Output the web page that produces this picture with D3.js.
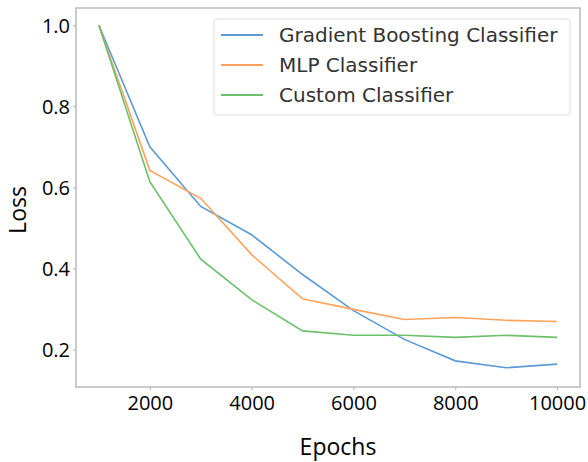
<!DOCTYPE html>
<html>
<head>
<meta charset="utf-8">
<script src="https://cdn.jsdelivr.net/npm/d3@7"></script>
<style>
  body { margin: 0; background: #fff; }
  svg { display: block; }
</style>
</head>
<body>
<div id="chart"></div>
<script>
var epochs = [1000, 2000, 3000, 4000, 5000, 6000, 7000, 8000, 9000, 10000];
var gradientBoosting = [1.0, 0.70, 0.553, 0.483, 0.385, 0.296, 0.225, 0.172, 0.155, 0.164];
var mlp = [1.0, 0.642, 0.573, 0.434, 0.325, 0.299, 0.274, 0.279, 0.272, 0.269];
var custom = [1.0, 0.614, 0.423, 0.323, 0.246, 0.235, 0.235, 0.230, 0.235, 0.230];
var xTicks = [2000, 4000, 6000, 8000, 10000];
var yTicks = [0.2, 0.4, 0.6, 0.8, 1.0];

var series = [
    {name: "Gradient Boosting Classifier", values: gradientBoosting, color: "#5b9bd5"},
    {name: "MLP Classifier", values: mlp, color: "#ffa35c"},
    {name: "Custom Classifier", values: custom, color: "#6cc06a"}
];

var W = 588, H = 462;
var margin = {top: 8, right: 8, bottom: 75, left: 76};
var width = W - margin.left - margin.right;
var height = H - margin.top - margin.bottom;

var svg = d3.select("#chart").append("svg")
    .attr("width", W)
    .attr("height", H);

var g = svg.append("g")
    .attr("transform", "translate(" + margin.left + "," + margin.top + ")");

var x = d3.scaleLinear().domain([550, 10450]).range([0, width]);
var y = d3.scaleLinear().domain([0.1075, 1.0425]).range([height, 0]);

var tickFont = "'Open Sans', sans-serif";

var xAxis = g.append("g")
    .attr("transform", "translate(0," + height + ")")
    .call(d3.axisBottom(x).tickValues(xTicks).tickSize(3).tickPadding(6).tickFormat(d3.format("d")));
var yAxis = g.append("g")
    .call(d3.axisLeft(y).tickValues(yTicks).tickSize(3).tickPadding(3).tickFormat(d3.format(".1f")));

[xAxis, yAxis].forEach(function(a) {
    a.select(".domain").remove();
    a.selectAll("line").attr("stroke", "#aaa");
    a.selectAll("text")
        .style("font-family", tickFont)
        .style("font-size", "20px")
        .attr("fill", "#000");
});
yAxis.selectAll("text").attr("dy", "0.35em");

// frame
g.append("rect")
    .attr("x", 0).attr("y", 0)
    .attr("width", width).attr("height", height)
    .attr("fill", "none")
    .attr("stroke", "#bbb")
    .attr("stroke-width", 1.5);

var line = d3.line()
    .x(function(d, i) { return x(epochs[i]); })
    .y(function(d) { return y(d); });

series.forEach(function(s) {
    g.append("path")
        .datum(s.values)
        .attr("fill", "none")
        .attr("stroke", s.color)
        .attr("stroke-width", 1.6)
        .attr("d", line);
});

// legend
var legend = g.append("g").attr("transform", "translate(138,11)");
legend.append("rect")
    .attr("width", 356).attr("height", 96)
    .attr("rx", 3)
    .attr("fill", "#fff")
    .attr("fill-opacity", 0.85)
    .attr("stroke", "#ddd");
series.forEach(function(s, i) {
    var ly = 16 + i * 30;
    legend.append("line")
        .attr("x1", 7).attr("x2", 49)
        .attr("y1", ly).attr("y2", ly)
        .attr("stroke", s.color)
        .attr("stroke-width", 2);
    legend.append("text")
        .attr("x", 65).attr("y", ly)
        .attr("dy", "0.35em")
        .style("font-family", "'DejaVu Sans', sans-serif")
        .style("font-size", "20px")
        .attr("fill", "#333")
        .text(s.name);
});

svg.append("text")
    .attr("x", 338).attr("y", 447)
    .attr("dy", "0.35em")
    .attr("text-anchor", "middle")
    .style("font-family", tickFont)
    .style("font-size", "23px")
    .text("Epochs");

svg.append("text")
    .attr("transform", "translate(18,210) rotate(-90)")
    .attr("dy", "0.35em")
    .attr("text-anchor", "middle")
    .style("font-family", tickFont)
    .style("font-size", "23px")
    .text("Loss");
</script>
</body>
</html>
